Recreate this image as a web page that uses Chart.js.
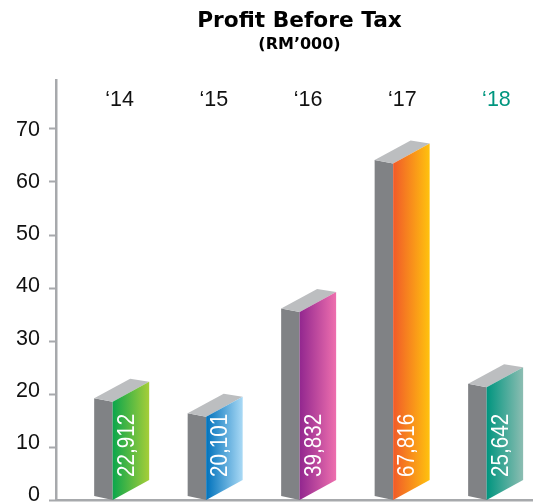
<!DOCTYPE html>
<html>
<head>
<meta charset="utf-8">
<script src="https://cdn.jsdelivr.net/npm/chart.js@4/dist/chart.umd.min.js"></script>
<style>html,body{margin:0;padding:0;background:#fff}canvas{display:block}</style>
</head>
<body>
<canvas id="c" width="533" height="502"></canvas>
<script>
const categories = ["\u201814", "\u201815", "\u201816", "\u201817", "\u201818"];
const profitRM000 = [22912, 20101, 39832, 67816, 25642];
const yTicks = [0, 10, 20, 30, 40, 50, 60, 70];
const gradientStart = ["#0BA64C", "#0072BC", "#92278F", "#F15A29", "#00957F"];
const gradientEnd = ["#A6CE39", "#A9D9F5", "#EE6FAE", "#FFC20E", "#8CBDB2"];
const tickColours = ["#111111", "#111111", "#111111", "#111111", "#00967F"];
const axisGrey = "#A7A9AC";
const sans = "'Liberation Sans', sans-serif";

const titleShift = {
  id: "titleShift",
  afterLayout(chart) {
    chart.boxes.forEach(b => {
      if (b.options && b.options.text) { b.left += 33; b.right += 33; }
    });
  }
};

const prism = {
  id: "prism",
  afterDatasetsDraw(chart) {
    const ctx = chart.ctx;
    const bars = chart.getDatasetMeta(0).data;
    bars.forEach((bar, i) => {
      const x = bar.x, y = bar.y, b = bar.base;
      const left = x - 27, front = x - 8.5, right = x + 28, back = x + 9;
      const poly = (pts, fill) => {
        ctx.beginPath();
        pts.forEach((p, k) => k ? ctx.lineTo(p[0], p[1]) : ctx.moveTo(p[0], p[1]));
        ctx.closePath();
        ctx.fillStyle = fill;
        ctx.fill();
      };
      poly([[left, y + 19.5], [front, y + 23], [front, b], [left, b - 4]], "#808285");
      poly([[left, y + 19.5], [back, y], [right, y + 3], [front, y + 23]], "#BCBEC0");
      const g = ctx.createLinearGradient(front, 0, right, 0);
      g.addColorStop(0, gradientStart[i]);
      g.addColorStop(1, gradientEnd[i]);
      poly([[front, y + 23], [right, y + 3], [right, b - 20], [front, b]], g);
      ctx.save();
      ctx.translate(x + 5, b - 23);
      ctx.rotate(-Math.PI / 2);
      ctx.scale(0.86, 1);
      ctx.fillStyle = "#fff";
      ctx.font = "24px " + sans;
      ctx.textAlign = "left";
      ctx.textBaseline = "middle";
      ctx.fillText(profitRM000[i].toLocaleString("en-US"), 0, 1);
      ctx.restore();
    });
  }
};

new Chart(document.getElementById("c"), {
  type: "bar",
  data: {
    datasets: [{
      data: profitRM000.map((v, i) => ({ x: i, y: v / 1000 })),
      xAxisID: "x",
      yAxisID: "y",
      backgroundColor: "rgba(0,0,0,0)",
      borderWidth: 0,
      barThickness: 37
    }]
  },
  plugins: [titleShift, prism],
  options: {
    responsive: false,
    animation: false,
    layout: { autoPadding: false, padding: { left: 0, right: 0, top: 0, bottom: 1.5 } },
    plugins: {
      legend: { display: false },
      tooltip: { enabled: false },
      title: {
        display: true,
        text: "Profit Before Tax",
        color: "#000",
        font: { family: "'DejaVu Sans', sans-serif", weight: "bold", size: 21.7 },
        padding: { top: 8, bottom: 1.4 }
      },
      subtitle: {
        display: true,
        text: "(RM\u2019000)",
        color: "#000",
        font: { family: "'DejaVu Sans', sans-serif", weight: "bold", size: 16 },
        padding: { top: 0, bottom: 25.4 }
      }
    },
    scales: {
      x: {
        type: "linear",
        position: "bottom",
        offset: false,
        min: -0.697,
        max: 4.405,
        afterFit(scale) { scale.height = 0; },
        grid: { display: false, drawTicks: false },
        border: { display: true, color: axisGrey, width: 2.5 },
        ticks: { display: false }
      },
      xLabels: {
        type: "linear",
        position: { y: 77.8 },
        offset: false,
        min: -0.6755,
        max: 4.388,
        afterBuildTicks(scale) { scale.ticks = categories.map((c, i) => ({ value: i })); },
        afterFit(scale) { scale.height = 0; scale.paddingLeft = 0; scale.paddingRight = 0; },
        grid: { display: false, drawTicks: false },
        border: { display: false },
        ticks: {
          autoSkip: false,
          maxRotation: 0,
          padding: 0,
          callback: (v) => categories[v],
          color: (c) => tickColours[c.index],
          font: { family: sans, size: 21.5 }
        }
      },
      y: {
        type: "linear",
        position: "left",
        weight: 1,
        min: 0,
        max: 79.2,
        afterBuildTicks(scale) { scale.ticks = yTicks.map(v => ({ value: v })); },
        afterFit(scale) { scale.width = 8; },
        grid: { drawOnChartArea: false, color: axisGrey, tickLength: 7, tickWidth: 2 },
        border: { color: axisGrey, width: 2.5 },
        ticks: { display: false }
      },
      yLabels: {
        type: "linear",
        position: "left",
        weight: 2,
        min: -1.05,
        max: 79.6,
        afterBuildTicks(scale) { scale.ticks = yTicks.map(v => ({ value: v })); },
        afterFit(scale) { scale.width = 48; scale.paddingTop = 0; scale.paddingBottom = 0; },
        grid: { display: false, drawTicks: false },
        border: { display: false },
        ticks: {
          color: "#111",
          padding: 8,
          font: { family: sans, size: 21.5 }
        }
      }
    }
  }
});
</script>
</body>
</html>
